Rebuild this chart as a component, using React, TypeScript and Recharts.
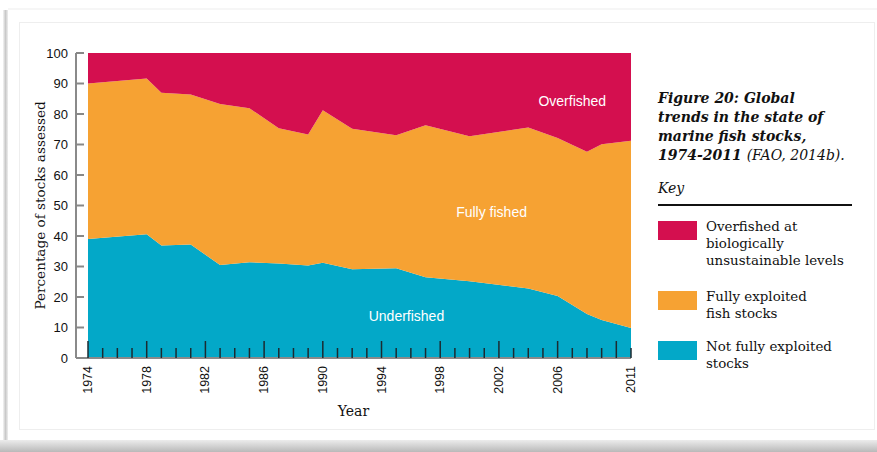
import { AreaChart, Area, XAxis, YAxis, ReferenceDot } from "recharts";

// FAO state of marine fish stocks, % of stocks assessed
const years = [
  1974, 1978, 1979, 1981, 1983, 1985, 1987, 1989, 1990, 1992, 1995, 1997, 2000,
  2004, 2006, 2008, 2009, 2011,
];
const notFullyExploited = [
  39.0, 40.6, 36.9, 37.2, 30.5, 31.4, 31.0, 30.3, 31.2, 29.1, 29.4, 26.5, 25.2,
  22.8, 20.3, 14.4, 12.5, 9.8,
];
const fullyExploited = [
  51.0, 51.0, 50.1, 49.2, 52.8, 50.5, 44.3, 43.0, 50.0, 46.1, 43.6, 49.8, 47.5,
  52.8, 51.8, 53.2, 57.6, 61.4,
];
const overfished = [
  10.0, 8.4, 13.0, 13.6, 16.7, 18.1, 24.7, 26.7, 18.8, 24.8, 27.0, 23.7, 27.3,
  24.4, 27.9, 32.4, 29.9, 28.8,
];

const yTicks = [0, 10, 20, 30, 40, 50, 60, 70, 80, 90, 100];
const labelYears = [1974, 1978, 1982, 1986, 1990, 1994, 1998, 2002, 2006, 2011];
const allYears: number[] = [];
for (let y = 1974; y <= 2011; y++) allYears.push(y);

const RED = "#d40f4f";
const ORANGE = "#f6a233";
const BLUE = "#03a8c8";

const data = years.map((year, i) => ({
  year,
  notFully: notFullyExploited[i],
  fully: fullyExploited[i],
  over: overfished[i],
}));

const XTick = (props: any) => {
  const { x, y, payload } = props;
  const yr = payload.value;
  const major = (yr - 1974) % 4 === 0;
  return (
    <g>
      <line
        x1={x}
        x2={x}
        y1={y}
        y2={y - (major ? 17 : 10)}
        stroke="#1c2a30"
        strokeWidth={1.5}
      />
      {labelYears.includes(yr) && (
        <text
          transform={`translate(${x},${y + 8}) rotate(-90)`}
          textAnchor="end"
          dominantBaseline="central"
          fontSize={12.5}
          fontFamily="Liberation Sans, Arial, sans-serif"
          fill="#111"
        >
          {yr}
        </text>
      )}
    </g>
  );
};

const YTick = (props: any) => {
  const { x, y, payload } = props;
  return (
    <g>
      <line x1={x} x2={x + 8} y1={y} y2={y} stroke="#888" strokeWidth={2} />
      <text
        x={x - 8}
        y={y}
        textAnchor="end"
        dominantBaseline="central"
        fontSize={13}
        fontFamily="Liberation Sans, Arial, sans-serif"
        fill="#111"
      >
        {payload.value}
      </text>
    </g>
  );
};

const serif = "'DejaVu Serif', Georgia, serif";

const legendItems = [
  { color: RED, top: 221, lines: ["Overfished at", "biologically", "unsustainable levels"] },
  { color: ORANGE, top: 291, lines: ["Fully exploited", "fish stocks"] },
  { color: BLUE, top: 341, lines: ["Not fully exploited", "stocks"] },
];

const areaLabel = (value: string) => ({
  value,
  position: "center" as const,
  fill: "#fff",
  fontSize: 14,
  fontFamily: "Liberation Sans, Arial, sans-serif",
});

export default function App() {
  return (
    <div
      style={{
        position: "absolute",
        left: 0,
        top: 0,
        width: 877,
        height: 452,
        background: "#fff",
        overflow: "hidden",
      }}
    >
      {/* card frame */}
      <div
        style={{
          position: "absolute",
          left: 3,
          top: 10,
          width: 5,
          height: 430,
          background: "linear-gradient(to right, #f4f4f4, #c9c9c9, #eeeeee)",
        }}
      />
      <div
        style={{
          position: "absolute",
          left: 8,
          top: 8,
          width: 880,
          height: 2,
          background: "#f6f6f6",
        }}
      />
      <div
        style={{
          position: "absolute",
          left: 0,
          top: 440,
          width: 877,
          height: 12,
          background: "linear-gradient(to bottom, #ececec, #b9b9b9)",
        }}
      />
      <div
        style={{
          position: "absolute",
          left: 19,
          top: 22,
          width: 854,
          height: 406,
          border: "1px solid #eeeeee",
        }}
      />

      <div style={{ position: "absolute", left: 0, top: 0 }}>
        <AreaChart
          width={877}
          height={452}
          data={data}
          margin={{ top: 53, right: 246, bottom: 0, left: 0 }}
        >
          <Area
            type="linear"
            dataKey="notFully"
            stackId="1"
            stroke="none"
            fill={BLUE}
            fillOpacity={1}
            isAnimationActive={false}
            dot={false}
            activeDot={false}
          />
          <Area
            type="linear"
            dataKey="fully"
            stackId="1"
            stroke="none"
            fill={ORANGE}
            fillOpacity={1}
            isAnimationActive={false}
            dot={false}
            activeDot={false}
          />
          <Area
            type="linear"
            dataKey="over"
            stackId="1"
            stroke="none"
            fill={RED}
            fillOpacity={1}
            isAnimationActive={false}
            dot={false}
            activeDot={false}
          />
          <ReferenceDot x={2007} y={84.3} r={0} stroke="none" label={areaLabel("Overfished")} />
          <ReferenceDot x={2001.5} y={47.8} r={0} stroke="none" label={areaLabel("Fully fished")} />
          <ReferenceDot x={1995.7} y={13.9} r={0} stroke="none" label={areaLabel("Underfished")} />
          <XAxis
            dataKey="year"
            type="number"
            domain={[1974, 2011]}
            ticks={allYears}
            interval={0}
            padding={{ left: 12, right: 0 }}
            height={94}
            tickSize={0}
            tickMargin={0}
            tickLine={false}
            axisLine={{ stroke: "#8a8a8a", strokeWidth: 2 }}
            tick={<XTick />}
            label={{
              value: "Year",
              position: "insideTop",
              offset: 48,
              fontSize: 14,
              fontFamily: serif,
              fill: "#111",
            }}
          />
          <YAxis
            type="number"
            domain={[0, 100]}
            ticks={yTicks}
            interval={0}
            width={76}
            tickSize={0}
            tickMargin={0}
            tickLine={false}
            axisLine={{ stroke: "#8a8a8a", strokeWidth: 2 }}
            tick={<YTick />}
            label={{
              value: "Percentage of stocks assessed",
              angle: -90,
              position: "insideLeft",
              offset: 40,
              style: { textAnchor: "middle" },
              fontSize: 13.6,
              fontFamily: serif,
              fill: "#111",
            }}
          />
        </AreaChart>
      </div>

      {/* caption and key */}
      <div
        style={{
          position: "absolute",
          left: 658,
          top: 89,
          width: 210,
          fontFamily: serif,
          fontSize: 14,
          lineHeight: "19px",
          fontStyle: "italic",
          fontWeight: "bold",
          color: "#111",
          whiteSpace: "nowrap",
        }}
      >
        Figure 20: Global
        <br />
        trends in the state of
        <br />
        marine fish stocks,
        <br />
        1974-2011 <span style={{ fontWeight: "normal" }}>(FAO, 2014b).</span>
      </div>
      <div
        style={{
          position: "absolute",
          left: 658,
          top: 179,
          fontFamily: serif,
          fontSize: 14,
          lineHeight: "19px",
          fontStyle: "italic",
          color: "#111",
        }}
      >
        Key
      </div>
      <div
        style={{
          position: "absolute",
          left: 658,
          top: 204,
          width: 194,
          height: 2,
          background: "#111",
        }}
      />
      {legendItems.map((it) => (
        <div key={it.color}>
          <div
            style={{
              position: "absolute",
              left: 658,
              top: it.top,
              width: 39,
              height: 19,
              background: it.color,
            }}
          />
          <div
            style={{
              position: "absolute",
              left: 706,
              top: it.top - 3,
              fontFamily: serif,
              fontSize: 13.4,
              lineHeight: "17px",
              color: "#111",
              whiteSpace: "nowrap",
            }}
          >
            {it.lines.map((l) => (
              <div key={l}>{l}</div>
            ))}
          </div>
        </div>
      ))}
    </div>
  );
}
